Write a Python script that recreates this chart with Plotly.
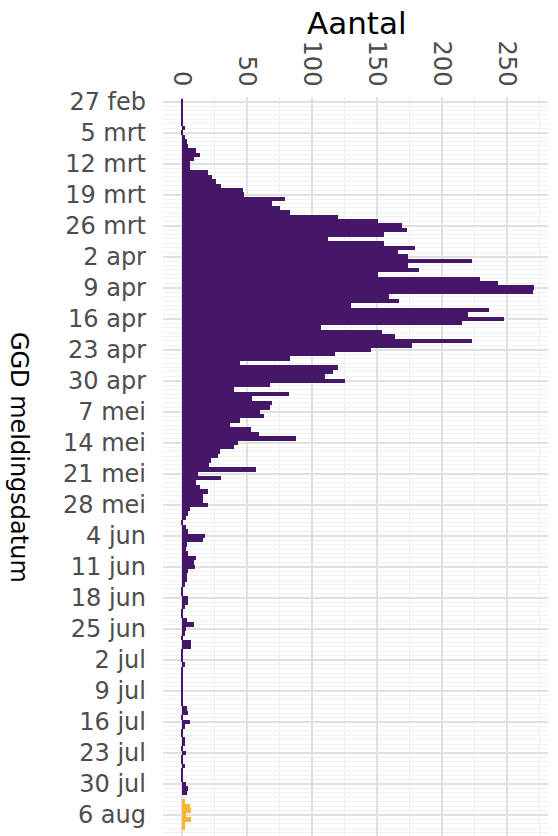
import pandas as pd
import plotly.graph_objects as go

# daily counts by GGD meldingsdatum, starting 27 feb 2020
start_date = "2020-02-27"
counts_final = [
    1, 1, 1, 1, 1, 1, 2, 1, 2, 4,
    5, 11, 14, 9, 6, 6, 20, 23, 26, 30,
    47, 48, 79, 69, 75, 83, 120, 151, 169, 173,
    155, 112, 155, 179, 166, 174, 223, 174, 182, 151,
    229, 243, 271, 270, 159, 167, 130, 236, 220, 248,
    215, 107, 154, 164, 223, 177, 145, 118, 83, 45,
    120, 116, 110, 125, 68, 40, 82, 54, 69, 68,
    60, 63, 45, 37, 53, 59, 88, 43, 40, 29,
    28, 22, 21, 57, 12, 30, 11, 14, 20, 16,
    16, 20, 6, 5, 3, 1, 3, 5, 18, 16,
    4, 3, 5, 11, 9, 10, 5, 4, 4, 2,
    1, 1, 5, 5, 2, 1, 1, 4, 9, 3,
    2, 1, 7, 7, 1, 1, 1, 2, 1, 1,
    1, 1, 1, 1, 1, 1, 1, 4, 5, 1,
    6, 2, 1, 1, 2, 2, 1, 3, 1, 1,
    2, 1, 1, 1, 3, 5, 4,
]
# most recent days (not yet complete)
counts_recent = [0, 2, 6, 7, 3, 7, 2, 2]

tick_dates = pd.date_range(start_date, periods=24, freq="7D")
tick_labels = [
    "27 feb", "5 mrt", "12 mrt", "19 mrt", "26 mrt", "2 apr", "9 apr", "16 apr",
    "23 apr", "30 apr", "7 mei", "14 mei", "21 mei", "28 mei", "4 jun", "11 jun",
    "18 jun", "25 jun", "2 jul", "9 jul", "16 jul", "23 jul", "30 jul", "6 aug",
]
x_ticks = [0, 50, 100, 150, 200, 250]

all_dates = pd.date_range(start_date, periods=len(counts_final) + len(counts_recent), freq="D")
dates_final = all_dates[:len(counts_final)]
dates_recent = all_dates[len(counts_final):]

day_ms = 86400000
font = "DejaVu Sans"

fig = go.Figure()
fig.add_trace(go.Bar(x=counts_final, y=dates_final, orientation="h", width=day_ms,
                     marker=dict(color="#461668", line=dict(width=0)), showlegend=False))
fig.add_trace(go.Bar(x=counts_recent, y=dates_recent, orientation="h", width=day_ms,
                     marker=dict(color="#f6b43a", line=dict(width=0)), showlegend=False))

fig.update_xaxes(
    side="top", range=[-14.6, 281.5], tickvals=x_ticks, tickangle=90,
    tickfont=dict(family=font, size=24, color="#4d4d4d"),
    showgrid=True, gridcolor="#e0e0e0", gridwidth=2, zeroline=False,
    minor=dict(dtick=25, tick0=0, showgrid=True, gridcolor="#eeeeee", gridwidth=1),
    ticklabelstandoff=6,
)
fig.update_yaxes(
    type="date", range=["2020-08-10 18:00", "2020-02-25 23:00"],
    tickvals=tick_dates, ticktext=tick_labels,
    tickfont=dict(family=font, size=24, color="#4d4d4d"),
    showgrid=True, gridcolor="#e0e0e0", gridwidth=2, zeroline=False,
    minor=dict(dtick=day_ms, tick0=start_date, showgrid=True, gridcolor="#f1f1f1", gridwidth=1),
    ticklabelstandoff=16,
)

fig.add_annotation(text="Aantal", xref="paper", yref="paper", x=0.505, y=1.1,
                   xanchor="center", yanchor="middle", showarrow=False,
                   font=dict(family=font, size=31, color="#000000"))
fig.add_annotation(text="GGD meldingsdatum", xref="paper", yref="paper", x=-0.374, y=0.513,
                   xanchor="center", yanchor="middle", showarrow=False, textangle=90,
                   font=dict(family=font, size=24, color="#000000"))

fig.update_layout(
    width=558, height=836, autosize=False,
    margin=dict(l=163, r=10, t=97, b=0),
    plot_bgcolor="white", paper_bgcolor="white",
    bargap=0,
)

# drop the default page margin so the figure sits at the window corner
fig.write_html("out.html", config={"displayModeBar": False},
               post_script="document.body.style.margin = '0px';")
